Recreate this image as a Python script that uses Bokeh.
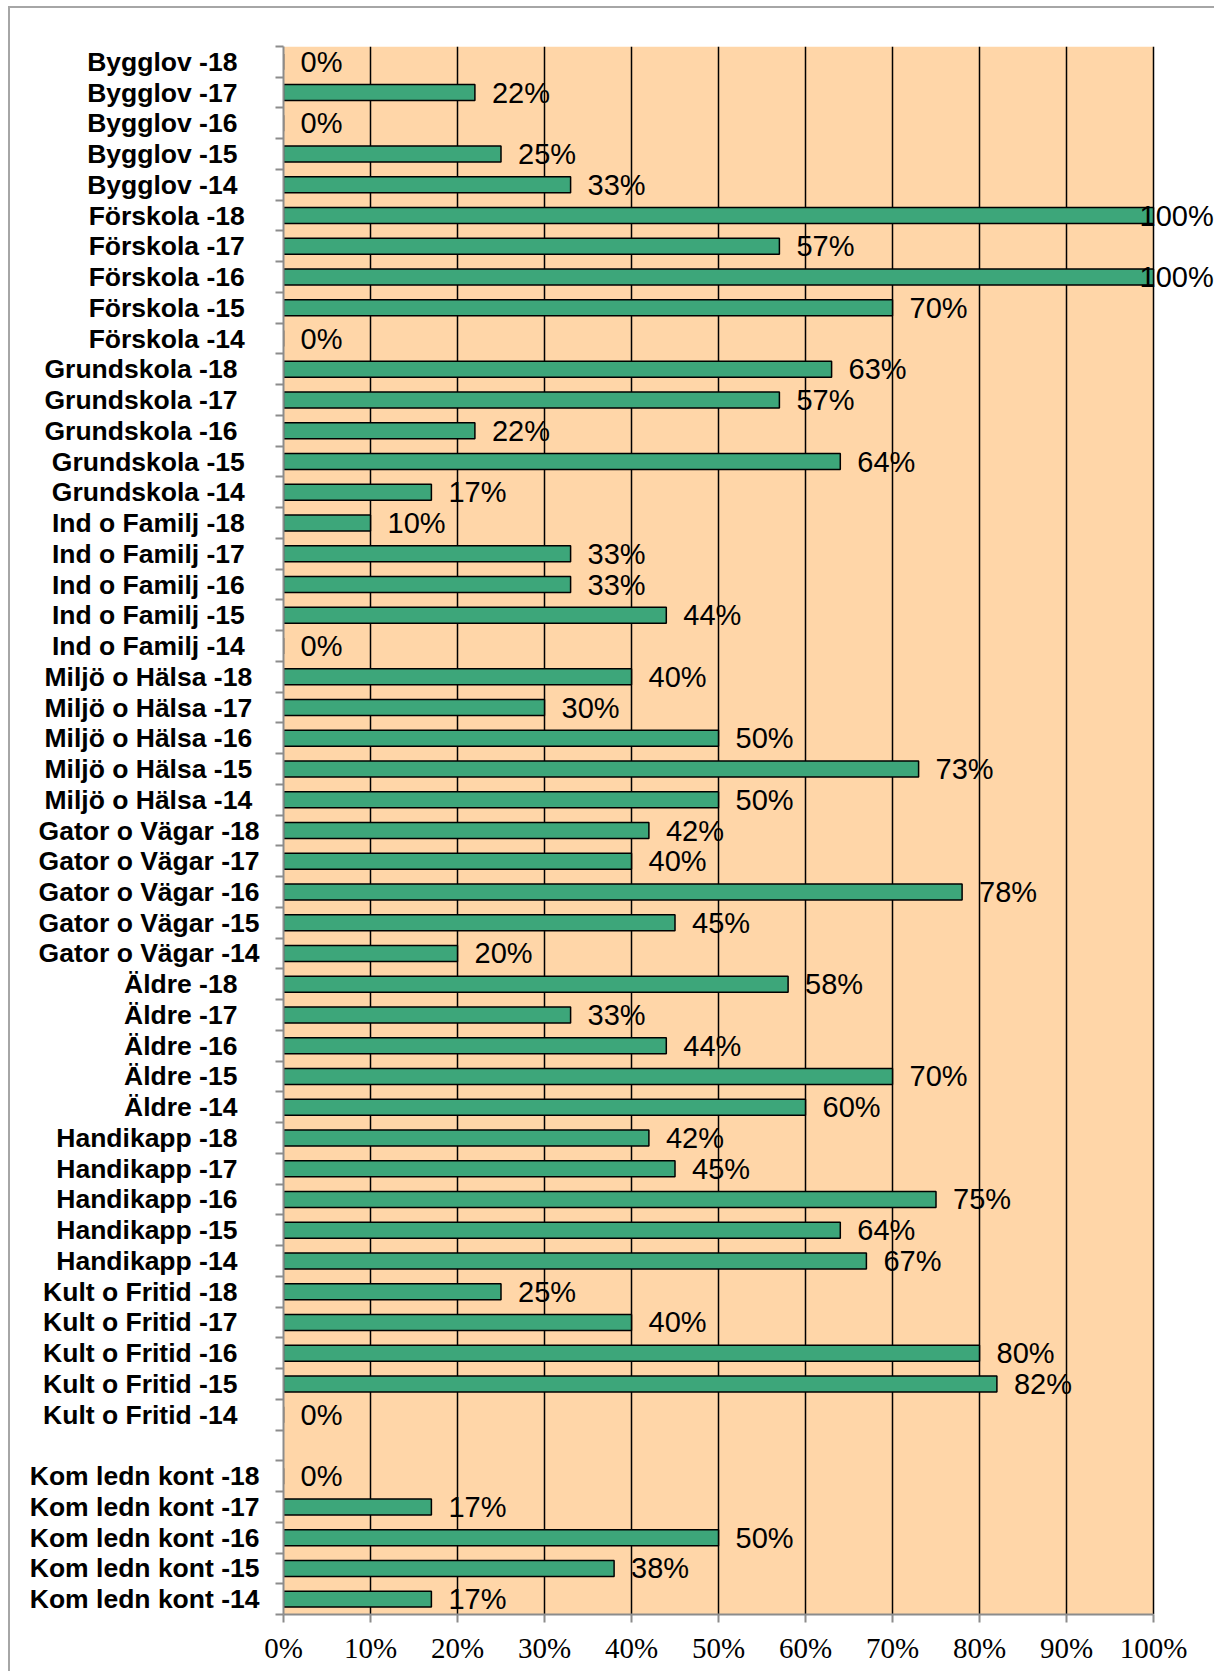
from bokeh.plotting import figure
from bokeh.models import Range1d, FixedTicker, ColumnDataSource, LabelSet, BoxAnnotation
from bokeh.core.properties import value
from bokeh.embed import file_html
from bokeh.resources import INLINE

# ---- data (top to bottom) ----
categories = [
    "Bygglov -18", "Bygglov -17", "Bygglov -16", "Bygglov -15", "Bygglov -14",
    "Förskola -18", "Förskola -17", "Förskola -16", "Förskola -15", "Förskola -14",
    "Grundskola -18", "Grundskola -17", "Grundskola -16", "Grundskola -15", "Grundskola -14",
    "Ind o Familj -18", "Ind o Familj -17", "Ind o Familj -16", "Ind o Familj -15", "Ind o Familj -14",
    "Miljö o Hälsa -18", "Miljö o Hälsa -17", "Miljö o Hälsa -16", "Miljö o Hälsa -15", "Miljö o Hälsa -14",
    "Gator o Vägar -18", "Gator o Vägar -17", "Gator o Vägar -16", "Gator o Vägar -15", "Gator o Vägar -14",
    "Äldre -18", "Äldre -17", "Äldre -16", "Äldre -15", "Äldre -14",
    "Handikapp -18", "Handikapp -17", "Handikapp -16", "Handikapp -15", "Handikapp -14",
    "Kult o Fritid -18", "Kult o Fritid -17", "Kult o Fritid -16", "Kult o Fritid -15", "Kult o Fritid -14",
    "",
    "Kom ledn kont -18", "Kom ledn kont -17", "Kom ledn kont -16", "Kom ledn kont -15", "Kom ledn kont -14",
]
percent = [
    0, 22, 0, 25, 33,
    100, 57, 100, 70, 0,
    63, 57, 22, 64, 17,
    10, 33, 33, 44, 0,
    40, 30, 50, 73, 50,
    42, 40, 78, 45, 20,
    58, 33, 44, 70, 60,
    42, 45, 75, 64, 67,
    25, 40, 80, 82, 0,
    None,
    0, 17, 50, 38, 17,
]
x_ticks = [0, 10, 20, 30, 40, 50, 60, 70, 80, 90, 100]

# ---- style: trailing-space padding of the category labels (as in the original) ----
label_pad = (
    [3] * 5 + [2] * 5 + [3, 3, 3, 2, 2] + [2] * 5 + [1] * 5 + [0] * 5
    + [3] * 5 + [3] * 5 + [3] * 5 + [0] + [0] * 5
)

rows = [i for i, c in enumerate(categories) if c]
vals = [percent[i] for i in rows]
src = ColumnDataSource(dict(
    y=rows,
    v=vals,
    lbl=[f"{v}%" for v in vals],
    xo=[-14 if v >= 100 else 17 for v in vals],
))

n = len(categories)
AXIS_W = 870      # pixel width of the 0..100 % scale
EXTRA_W = 61      # white room right of 100 % (labels may spill into it)
x_max = x_ticks[-1] * (AXIS_W + EXTRA_W) / AXIS_W

p = figure(
    frame_width=AXIS_W + EXTRA_W, frame_height=1568,
    x_range=Range1d(0, x_max), y_range=Range1d(n - 0.5, -0.5),
    output_backend="svg", toolbar_location=None,
    min_border_left=273, min_border_top=38, min_border_right=0, min_border_bottom=57,
)
p.styles = {
    "margin-left": "8px", "margin-top": "6px",
    "border-left": "2px solid #A6A6A6", "border-top": "2px solid #A6A6A6",
}
p.background_fill_color = "white"
p.border_fill_color = "white"
p.outline_line_color = None

# peach plot area from 0 % to 100 %, below the grid lines
p.add_layout(BoxAnnotation(left=x_ticks[0], right=x_ticks[-1], fill_color="#FFD6A8",
                           fill_alpha=1.0, line_color=None, level="image"))

p.hbar(y="y", left=0, right="v", height=0.52, source=src,
       fill_color="#3DA67A", line_color="black", line_width=1.5)

labels = LabelSet(x="v", y="y", text="lbl", x_offset="xo", source=src,
                  text_font=value("Liberation Sans"), text_font_size=value("29px"),
                  text_baseline=value("middle"), text_align=value("left"),
                  text_color=value("black"))
p.add_layout(labels)

# x axis
p.xaxis.ticker = FixedTicker(ticks=x_ticks)
p.xaxis.bounds = (x_ticks[0], x_ticks[-1])
p.xaxis.major_label_overrides = {t: f"{t}%" for t in x_ticks}
p.xaxis.major_label_text_font = "Liberation Serif"
p.xaxis.major_label_text_font_size = "29px"
p.xaxis.major_label_text_color = "black"
p.xaxis.major_label_standoff = 9
p.xaxis.axis_line_color = "#8C8C8C"
p.xaxis.axis_line_width = 2
p.xaxis.major_tick_line_color = "#8C8C8C"
p.xaxis.major_tick_line_width = 2
p.xaxis.major_tick_out = 8
p.xaxis.major_tick_in = 0
p.xaxis.minor_tick_line_color = None

# y axis: labels at category centres, tick marks between categories
p.yaxis.ticker = FixedTicker(ticks=rows, minor_ticks=[i - 0.5 for i in range(n + 1)])
p.yaxis.major_label_overrides = {i: categories[i] + "\u00a0" * label_pad[i] for i in rows}
p.yaxis.major_label_text_font = "Liberation Sans"
p.yaxis.major_label_text_font_style = "bold"
p.yaxis.major_label_text_font_size = "26.5px"
p.yaxis.major_label_text_color = "black"
p.yaxis.major_label_standoff = 16
p.yaxis.major_tick_out = 0
p.yaxis.major_tick_in = 0
p.yaxis.major_tick_line_color = None
p.yaxis.minor_tick_out = 8
p.yaxis.minor_tick_in = 0
p.yaxis.minor_tick_line_color = "#8C8C8C"
p.yaxis.minor_tick_line_width = 2
p.yaxis.axis_line_color = "#8C8C8C"
p.yaxis.axis_line_width = 2

p.xgrid.ticker = FixedTicker(ticks=x_ticks[1:])
p.xgrid.grid_line_color = "black"
p.xgrid.grid_line_width = 1.5
p.ygrid.visible = False

open("out.html", "w").write(file_html(p, INLINE))
